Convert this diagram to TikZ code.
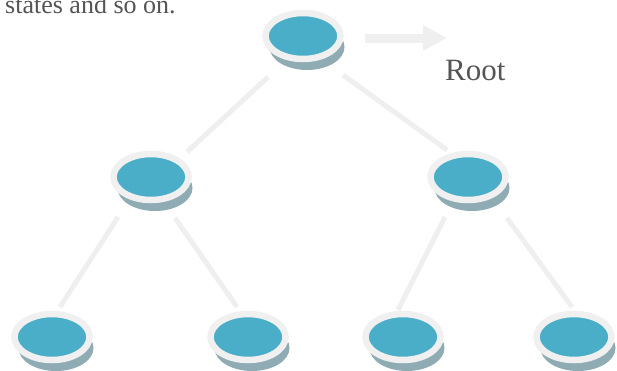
\documentclass[tikz,border=0pt]{standalone}
\usepackage{fontspec}
\setmainfont{Liberation Serif}
\usetikzlibrary{shapes.geometric,shadows,arrows.meta,calc}
\definecolor{nodeblue}{HTML}{4AAEC8}
\definecolor{ringgray}{HTML}{F0F0F0}
\definecolor{shadowcol}{HTML}{8FACB4}
\definecolor{edgegray}{HTML}{EFEFEF}
\definecolor{textgray}{HTML}{555555}
\begin{document}
\begin{tikzpicture}[x=1pt,y=-1pt,
  tnode/.style={ellipse, minimum width=75pt, minimum height=46pt, inner sep=0pt,
    fill=nodeblue, draw=ringgray, line width=6.5pt,
    drop shadow={shadow xshift=4pt, shadow yshift=-11pt, fill=shadowcol, opacity=1}},
  edge/.style={draw=edgegray, line width=5pt},
  arr/.style={draw=edgegray, line width=9pt, -{Triangle[length=24pt,width=24pt]}},
  lbl/.style={text=textgray, inner sep=0pt}]
\useasboundingbox (0,0) rectangle (617,370);
\node[lbl, font=\fontsize{26pt}{30pt}\selectfont, anchor=base west] (top) at (5,13) {states and so on.};
\node[tnode] (root) at (303,36) {};
\node[tnode] (lm) at (151,177) {};
\node[tnode] (rm) at (468,177) {};
\node[tnode] (b1) at (52,337) {};
\node[tnode] (b2) at (248,337) {};
\node[tnode] (b3) at (403,337) {};
\node[tnode] (b4) at (574,337) {};
\coordinate (as) at (365,38);
\coordinate (ae) at (447,38);
\draw[arr] (as) -- (ae);
\node[lbl, font=\fontsize{31pt}{36pt}\selectfont, anchor=base west] (rootlbl) at (445,80) {Root};
\draw[edge] ($(root)+(-35,41)$) -- ($(lm)+(36,-25)$);
\draw[edge] ($(root)+(40,39)$) -- ($(rm)+(-21,-27)$);
\draw[edge] ($(lm)+(-33,40)$) -- ($(b1)+(8,-30)$);
\draw[edge] ($(lm)+(24,41)$) -- ($(b2)+(-11,-30)$);
\draw[edge] ($(rm)+(-23,40)$) -- ($(b3)+(-5,-27)$);
\draw[edge] ($(rm)+(39,41)$) -- ($(b4)+(-2,-30)$);
\end{tikzpicture}
\end{document}
